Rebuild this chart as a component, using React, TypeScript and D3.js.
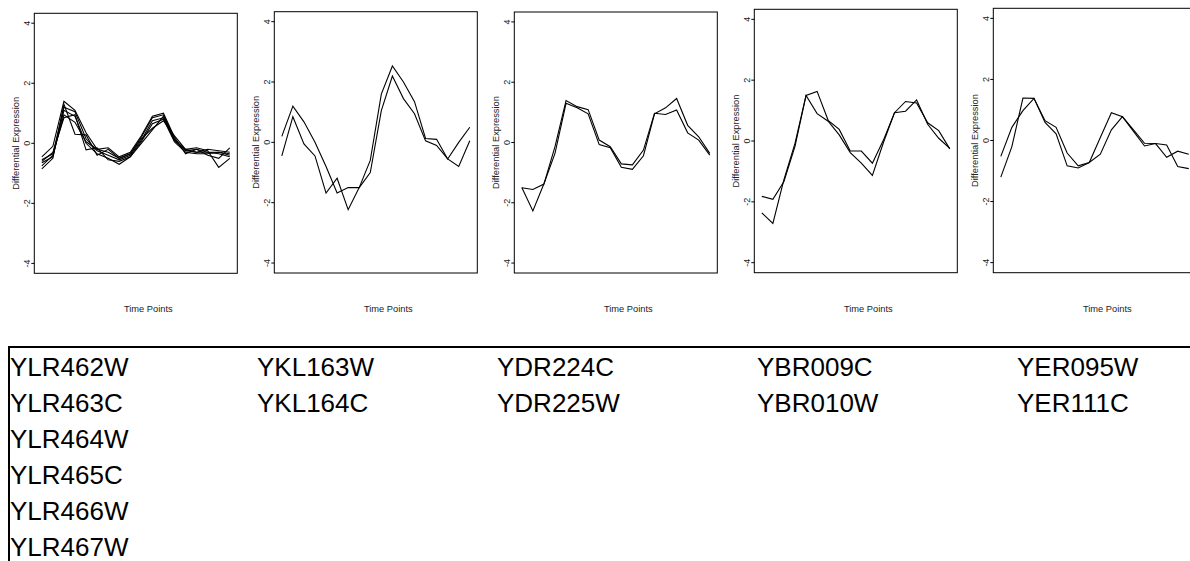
import React, { useEffect, useRef } from "react";
import * as d3 from "d3";

// time point index, 18 samples per gene
const timePoints = [1, 2, 3, 4, 5, 6, 7, 8, 9, 10, 11, 12, 13, 14, 15, 16, 17, 18];

const clusterYLR = [
    [-0.45, -0.1, 1.4, 1.1, 0.35, -0.2, -0.3, -0.5, -0.35, 0.2, 0.85, 0.95, 0.15, -0.25, -0.2, -0.3, -0.35, -0.45],
    [-0.55, -0.35, 1.2, 1.05, 0.15, -0.25, -0.4, -0.55, -0.4, 0.1, 0.75, 0.85, 0.1, -0.2, -0.3, -0.2, -0.25, -0.3],
    [-0.65, -0.45, 1.1, 0.9, 0.0, -0.35, -0.5, -0.7, -0.45, 0.05, 0.65, 0.8, 0.05, -0.3, -0.35, -0.35, -0.3, -0.35],
    [-0.75, -0.4, 0.95, 0.7, 0.05, -0.2, -0.15, -0.45, -0.3, 0.25, 0.9, 1.0, 0.2, -0.35, -0.2, -0.4, -0.5, -0.15],
    [-0.85, -0.5, 1.3, 0.3, 0.28, -0.4, -0.2, -0.5, -0.35, 0.15, 0.5, 0.75, 0.25, -0.2, -0.15, -0.25, -0.8, -0.5],
    [-0.6, -0.3, 0.85, 0.95, -0.22, -0.15, -0.55, -0.6, -0.45, 0.0, 0.45, 0.9, 0.1, -0.25, -0.3, -0.3, -0.3, -0.4],
];

const clusterYKL = [
    [0.2, 1.2, 0.68, 0.0, -0.8, -1.68, -1.5, -1.5, -1.0, 1.05, 2.2, 1.45, 0.95, 0.05, -0.1, -0.55, -0.8, 0.05],
    [-0.45, 0.85, -0.05, -0.45, -1.68, -1.19, -2.23, -1.5, -0.6, 1.6, 2.53, 2.0, 1.35, 0.13, 0.1, -0.55, 0.0, 0.5],
];

const clusterYDR = [
    [-1.49, -2.27, -1.37, -0.36, 1.3, 1.15, 0.95, -0.07, -0.17, -0.82, -0.89, -0.44, 0.95, 1.15, 1.46, 0.57, 0.19, -0.36],
    [-1.5, -1.56, -1.38, -0.14, 1.39, 1.19, 1.09, 0.08, -0.14, -0.71, -0.74, -0.25, 0.97, 0.93, 1.08, 0.32, 0.08, -0.42],
];

const clusterYBR = [
    [-1.82, -1.92, -1.33, -0.18, 1.5, 1.63, 0.68, 0.38, -0.33, -0.33, -0.73, 0.03, 0.93, 1.3, 1.25, 0.6, 0.34, -0.26],
    [-2.36, -2.71, -1.27, -0.08, 1.5, 0.9, 0.65, 0.2, -0.38, -0.73, -1.13, -0.05, 0.93, 0.98, 1.35, 0.55, 0.09, -0.24],
];

const clusterYER = [
    [-0.52, 0.43, 0.98, 1.38, 0.65, 0.43, -0.41, -0.83, -0.72, -0.45, 0.35, 0.78, 0.35, -0.09, -0.1, -0.55, -0.35, -0.45],
    [-1.2, -0.2, 1.39, 1.38, 0.59, 0.22, -0.83, -0.9, -0.72, 0.1, 0.91, 0.78, 0.3, -0.18, -0.1, -0.15, -0.85, -0.92],
];

const yTicks = [-4, -2, 0, 2, 4];

const genesYLR = ["YLR462W", "YLR463C", "YLR464W", "YLR465C", "YLR466W", "YLR467W"];
const genesYKL = ["YKL163W", "YKL164C"];
const genesYDR = ["YDR224C", "YDR225W"];
const genesYBR = ["YBR009C", "YBR010W"];
const genesYER = ["YER095W", "YER111C"];

const clusters = [clusterYLR, clusterYKL, clusterYDR, clusterYBR, clusterYER];
const geneColumns = [genesYLR, genesYKL, genesYDR, genesYBR, genesYER];

// the plot images are not all exactly the same size
const panelLeft = [34.3, 274.3, 514.3, 754.3, 993.3];
const panelTop = [13.3, 11.7, 12, 9.3, 8.3];
const panelBottom = [273.3, 273, 273, 272.7, 272.7];
const panelWidth = 203;
const columnX = [10, 257, 497, 757, 1017];

const FONT = "'Liberation Sans', Arial, Helvetica, sans-serif";

function App() {
    const svgRef = useRef<SVGSVGElement>(null);

    useEffect(() => {
        const svg = d3.select(svgRef.current);
        svg.selectAll("*").remove();

        svg.append("rect").attr("width", 1190).attr("height", 561).attr("fill", "#fff");

        clusters.forEach((series, i) => {
            const left = panelLeft[i];
            const x = d3.scaleLinear()
                .domain([1 - 0.68, 18 + 0.68])
                .range([left, left + panelWidth]);
            const y = d3.scaleLinear()
                .domain([-4.33, 4.33])
                .range([panelBottom[i], panelTop[i]]);

            const g = svg.append("g");

            // lines
            const line = d3.line<number>()
                .x((d, j) => x(timePoints[j]))
                .y(d => y(d));
            g.selectAll("path.gene")
                .data(series)
                .join("path")
                .attr("class", "gene")
                .attr("d", d => line(d))
                .attr("fill", "none")
                .attr("stroke", "#000")
                .attr("stroke-width", 1.1)
                .attr("stroke-linejoin", "miter");

            // box
            g.append("rect")
                .attr("x", left)
                .attr("y", panelTop[i])
                .attr("width", panelWidth)
                .attr("height", panelBottom[i] - panelTop[i])
                .attr("fill", "none")
                .attr("stroke", "#000")
                .attr("stroke-width", 1);

            // y axis, R style: ticks outside, labels parallel to the axis
            g.selectAll("line.tick")
                .data(yTicks)
                .join("line")
                .attr("class", "tick")
                .attr("x1", left - 3)
                .attr("x2", left)
                .attr("y1", d => y(d))
                .attr("y2", d => y(d))
                .attr("stroke", "#000")
                .attr("stroke-width", 1);
            g.selectAll("text.tick")
                .data(yTicks)
                .join("text")
                .attr("class", "tick")
                .attr("transform", d => `translate(${left - 4},${y(d)}) rotate(-90)`)
                .attr("text-anchor", "middle")
                .attr("font-family", FONT)
                .attr("font-size", 9)
                .attr("fill", "#222")
                .text(d => d);

            g.append("text")
                .attr("transform", `translate(${left - 15},${(panelTop[i] + panelBottom[i]) / 2}) rotate(-90)`)
                .attr("text-anchor", "middle")
                .attr("font-family", FONT)
                .attr("font-size", 9.3)
                .attr("fill", "#222")
                .text("Differential Expression");

            g.append("text")
                .attr("x", left + 114)
                .attr("y", 312)
                .attr("text-anchor", "middle")
                .attr("font-family", FONT)
                .attr("font-size", 9.3)
                .attr("fill", "#222")
                .text("Time Points");
        });

        // gene table
        svg.append("line")
            .attr("x1", 9).attr("x2", 1190)
            .attr("y1", 347).attr("y2", 347)
            .attr("stroke", "#000").attr("stroke-width", 2);
        svg.append("line")
            .attr("x1", 9).attr("x2", 9)
            .attr("y1", 346).attr("y2", 561)
            .attr("stroke", "#000").attr("stroke-width", 2);

        geneColumns.forEach((genes, c) => {
            svg.selectAll(`text.col${c}`)
                .data(genes)
                .join("text")
                .attr("class", `col${c}`)
                .attr("x", columnX[c])
                .attr("y", (d, r) => 376 + r * 36)
                .attr("font-family", FONT)
                .attr("font-size", 26)
                .attr("fill", "#000")
                .text(d => d);
        });
    }, []);

    return (
        <div style={{ position: "absolute", left: 0, top: 0 }}>
            <svg ref={svgRef} width={1190} height={561} style={{ display: "block" }} />
        </div>
    );
}

export default App;
